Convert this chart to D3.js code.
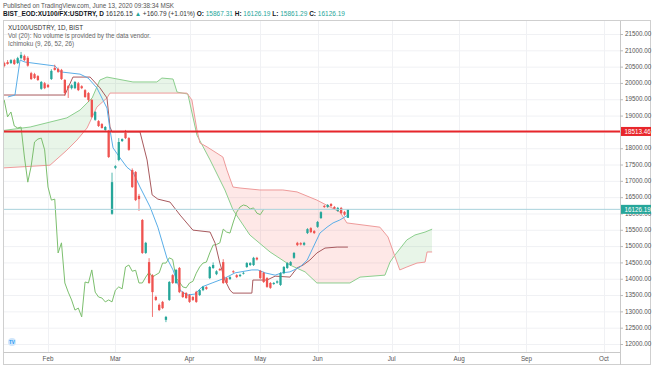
<!DOCTYPE html>
<html><head><meta charset="utf-8">
<script src="https://cdn.jsdelivr.net/npm/d3@7"></script>
<style>
body { margin: 0; background: #fff; font-family: 'Liberation Sans', Arial, sans-serif; }
svg { display: block; }
</style>
</head>
<body>
<svg id="chart" width="654" height="366"></svg>
<script>
// daily candles, Jan 15 .. Jun 12 2020 (bar index 0..102)
const opens  = [20610,20640,20610,20700,20610,20760,20830,20770,20300,20270,20210,19820,19990,19940,20120,20460,20430,20400,20090,19900,19840,19840,19990,19900,19780,19690,19480,18870,18830,18740,18560,18500,15990,17400,17640,18220,18470,18310,17330,17270,16540,15800,14790,14510,14110,13440,13200,13290,12740,13350,14110,13870,14330,13590,13560,13500,13440,13600,13500,13650,13740,14020,14330,14140,14300,14510,14020,13990,14230,14110,14080,14160,14360,14420,14420,14640,14240,14180,14020,13870,13840,13880,13810,14170,14330,14420,14640,15100,15090,15040,15400,15550,15460,15590,15860,16230,16200,16290,16200,16080,16170,16050,15867];
const highs  = [20650,20700,20730,20740,20800,20950,20870,20820,20340,20310,20240,20060,20030,19970,20420,20560,20470,20430,20120,19940,19960,20060,20030,19930,19810,19720,19510,19140,18860,18770,18680,18560,17250,17480,18310,18300,18560,18340,17380,17300,16600,15830,15130,14630,14140,13480,13240,13320,12860,13930,14140,14300,14360,13620,13590,13530,13470,13630,13680,13780,13770,14390,14500,14260,14330,14600,14050,14080,14260,14140,14150,14210,14510,14510,14670,14670,14270,14210,14050,13900,13900,13950,14200,14390,14510,14540,14820,15130,15120,15130,15550,15580,15490,15770,16070,16260,16290,16320,16230,16200,16200,16080,16126];
const lows   = [20480,20560,20580,20550,20580,20720,20670,20500,20090,20120,20060,19790,19810,19850,20090,20380,20310,20090,19600,19540,19800,19810,19750,19810,19540,19420,18930,18840,18650,18600,18530,17700,15960,17360,17600,18190,18280,17920,16780,16380,16080,14760,14760,13840,12830,13320,13010,13070,12670,13320,13840,13840,13560,13410,13380,13260,13320,13260,13470,13620,13660,13990,14300,14110,14240,13840,13840,13960,14170,14020,14050,14130,14330,14390,14390,14560,13990,13870,13720,13690,13810,13850,13780,14140,14300,14390,14610,15000,15020,15010,15370,15400,15370,15560,15830,16170,16170,16200,16110,16050,15980,15930,15861];
const closes = [20520,20580,20700,20580,20760,20860,20700,20530,20120,20150,20090,20030,19840,19870,20370,20400,20340,20120,19690,19840,19930,20030,19780,19840,19570,19480,18960,19110,18680,18620,18650,17730,16960,17450,18190,18280,18310,17950,16810,16410,16440,14790,15100,13870,13590,13350,13040,13100,12830,13900,13870,14270,13590,13440,13410,13290,13350,13290,13650,13750,13690,14360,14420,14230,14260,13870,13870,14050,14200,14050,14120,14180,14480,14480,14640,14590,14020,13900,13750,13720,13870,13920,14170,14360,14480,14510,14790,15030,15050,15100,15520,15430,15400,15740,16040,16200,16260,16230,16140,16170,16010,15965,16126];

// Ichimoku lines: [bar index, price]
const tenkan = [[1.1,19570],[3.2,19630],[4.7,20700],[6.2,20640],[15.1,20520],[16.6,20340],[22.5,20270],[24.9,20150],[27.5,19850],[30.5,19230],[31.4,18560],[32.3,18010],[34.4,17700],[36.4,17420],[38.2,17270],[40.3,16810],[43.3,16200],[45.6,15580],[48.3,14630],[50.1,14270],[52.2,13650],[54.2,13500],[56.6,13530],[58.7,13750],[61.7,13870],[65.5,14020],[68.5,14180],[73.5,14270],[75.3,14270],[77.4,14180],[80.4,14110],[82.4,14180],[84.8,14210],[87.8,14360],[89.9,14570],[91.6,14940],[93.7,15400],[95.8,15580],[97.6,15710],[99.6,15800],[102,15950]];
const kijun = [[-1.3,19630],[18,19630],[20.4,20180],[25.5,20180],[28.4,19850],[30.5,19540],[31.4,18650],[32,18500],[40.3,18500],[42.4,17640],[43.9,16570],[45.6,16440],[49.2,16350],[52.2,15950],[56,15490],[61.1,15430],[62.6,15090],[64,14480],[65.5,13960],[67,13650],[67.9,13560],[73.5,13560],[73.8,13960],[78,13960],[80.4,14080],[84.8,14050],[86.9,14330],[88.7,14420],[90.7,14570],[92.8,14790],[95.2,14940],[98.8,14970],[102,14970]];
const spanA = [[-1.3,18530],[7.7,18650],[18.6,18930],[22.5,19170],[26.1,19540],[28.4,20090],[30.5,20180],[38.2,20030],[45.3,20030],[46.8,20150],[50.1,20120],[51.3,19720],[54.5,19660],[57.2,18400],[61.1,17640],[65.5,16720],[67.9,16110],[72.9,15340],[78.9,14820],[84.8,14420],[89.3,14210],[92.8,13870],[102.6,13870],[105.6,14050],[113,14110],[114.5,14510],[116,14730],[119.5,15190],[121.9,15340],[124.9,15430],[127,15520]];
const spanB = [[-1.3,17390],[13.6,17480],[18.6,17940],[21.6,18250],[24.6,18620],[27.5,19260],[30.5,19540],[31.4,19690],[54.2,19690],[55.7,19480],[57.2,18560],[58.1,18160],[60.2,18040],[64.9,17730],[66.1,17330],[67.9,16810],[70,16780],[75.9,16720],[82.7,16720],[86.9,16660],[92.8,16410],[99.7,16040],[101.7,15710],[111.5,15580],[113.9,15280],[116,14670],[117.4,14270],[119.5,14360],[122.5,14480],[124.9,14510],[125.5,14820],[127,14820]];
const laggingShift = 25;

const priceTicks = [12000,12500,13000,13500,14000,14500,15000,15500,16000,16500,17000,17500,18000,18500,19000,19500,20000,20500,21000,21500];
const monthTicks = [13,33,55,76,93,115,135,155,178];
const monthNames = ["Feb","Mar","Apr","May","Jun","Jul","Aug","Sep","Oct"];
const levelLine = 18513.46;
const lastPrice = 16126.19;

const upCol = "#26a69a", downCol = "#ef5350";
const svg = d3.select("#chart");
const pl = 4, pr = 620, pt = 21, pb = 352;

const x = d3.scaleLinear().domain([0, 102]).range([4.2, 347.9]);
const y = d3.scaleLinear().domain([12000, 21500]).range([344, 34]);

const defs = svg.append("defs");
defs.append("clipPath").attr("id", "plot")
  .append("rect").attr("x", pl).attr("y", pt).attr("width", pr - pl).attr("height", pb - pt);

// frame
svg.append("rect").attr("x", 3.5).attr("y", 20.5).attr("width", 647).attr("height", 344)
  .attr("fill", "none").attr("stroke", "#cfcfcf");

// grid
const grid = svg.append("g").attr("clip-path", "url(#plot)");
grid.selectAll(".h").data(priceTicks).join("line")
  .attr("x1", pl).attr("x2", pr).attr("y1", d => y(d) + 0.5).attr("y2", d => y(d) + 0.5)
  .attr("stroke", "#f0f1f4");
grid.selectAll(".v").data(monthTicks).join("line")
  .attr("x1", d => Math.round(x(d)) + 0.5).attr("x2", d => Math.round(x(d)) + 0.5)
  .attr("y1", pt).attr("y2", pb).attr("stroke", "#f0f1f4");

const plot = svg.append("g").attr("clip-path", "url(#plot)");
const line = d3.line().x(d => x(d[0])).y(d => y(d[1]));

// cloud: polygon A -> reversed B, split by which side of B it lies
const xa = x(spanA[0][0]), xb = x(spanA[spanA.length - 1][0]);
const bPath = line(spanB);
defs.append("clipPath").attr("id", "aboveB").append("path").attr("d", bPath + `L${xb},0L${xa},0Z`);
defs.append("clipPath").attr("id", "belowB").append("path").attr("d", bPath + `L${xb},366L${xa},366Z`);
const cloud = line(spanA.concat(spanB.slice().reverse())) + "Z";
plot.append("g").attr("clip-path", "url(#aboveB)").append("path")
  .attr("d", cloud).attr("fill", "rgba(76,175,80,0.13)").attr("fill-rule", "evenodd");
plot.append("g").attr("clip-path", "url(#belowB)").append("path")
  .attr("d", cloud).attr("fill", "rgba(244,67,54,0.12)").attr("fill-rule", "evenodd");

plot.append("path").attr("d", line(spanA)).attr("fill", "none").attr("stroke", "#8ccf8e").attr("stroke-width", 1);
plot.append("path").attr("d", line(spanB)).attr("fill", "none").attr("stroke", "#ef9a9a").attr("stroke-width", 1);

// lagging span = closes shifted back
const lagging = closes.map((c, i) => [i - laggingShift, c]).filter(d => d[0] >= -1.3);
plot.append("path").attr("d", line(lagging)).attr("fill", "none").attr("stroke", "#7cbf6e").attr("stroke-width", 1);
plot.append("path").attr("d", line(kijun)).attr("fill", "none").attr("stroke", "#a85a5e").attr("stroke-width", 1);
plot.append("path").attr("d", line(tenkan)).attr("fill", "none").attr("stroke", "#5aaee8").attr("stroke-width", 1);

// candles
const candles = closes.map((c, i) => ({ i, o: opens[i], h: highs[i], l: lows[i], c }));
const cg = plot.append("g");
cg.selectAll(".wick").data(candles).join("line")
  .attr("x1", d => x(d.i)).attr("x2", d => x(d.i))
  .attr("y1", d => y(d.h)).attr("y2", d => y(d.l))
  .attr("stroke", d => d.c >= d.o ? upCol : downCol).attr("stroke-width", 0.8);
cg.selectAll(".body").data(candles).join("rect")
  .attr("x", d => x(d.i) - 1.15).attr("width", 2.3)
  .attr("y", d => y(Math.max(d.o, d.c)))
  .attr("height", d => Math.max(0.8, Math.abs(y(d.o) - y(d.c))))
  .attr("fill", d => d.c >= d.o ? upCol : downCol);

// price lines
plot.append("line").attr("x1", pl).attr("x2", pr)
  .attr("y1", y(lastPrice)).attr("y2", y(lastPrice)).attr("stroke", "#a9d3dc").attr("stroke-width", 1);
plot.append("line").attr("x1", pl).attr("x2", pr)
  .attr("y1", y(levelLine)).attr("y2", y(levelLine)).attr("stroke", "#e8262b").attr("stroke-width", 2);

// right axis
svg.append("line").attr("x1", pr + 0.5).attr("x2", pr + 0.5).attr("y1", pt).attr("y2", 365)
  .attr("stroke", "#c9c9c9");
const ax = svg.append("g").attr("font-size", 6.3).attr("fill", "#555");
ax.selectAll("text").data(priceTicks).join("text")
  .attr("x", 625).attr("y", d => y(d) + 2.2).text(d => d.toFixed(2));
ax.selectAll("line").data(priceTicks).join("line")
  .attr("x1", pr).attr("x2", pr + 3).attr("y1", d => y(d) + 0.5).attr("y2", d => y(d) + 0.5)
  .attr("stroke", "#bbb");

function priceTag(v, col) {
  const g = svg.append("g");
  g.append("rect").attr("x", pr + 1).attr("y", y(v) - 4.5).attr("width", 30).attr("height", 9).attr("fill", col);
  g.append("text").attr("x", 624.5).attr("y", y(v) + 2.2).attr("font-size", 6.3).attr("fill", "#fff").text(v.toFixed(2));
}
priceTag(levelLine, "#e8262b");
priceTag(lastPrice, "#26a69a");

// time axis
svg.append("line").attr("x1", 3.5).attr("x2", pr).attr("y1", pb + 0.5).attr("y2", pb + 0.5).attr("stroke", "#c9c9c9");
svg.append("g").selectAll("text").data(monthTicks).join("text")
  .attr("x", d => x(d)).attr("y", 360.5).attr("text-anchor", "middle")
  .attr("font-size", 6.3).attr("fill", "#555").text((d, i) => monthNames[i]);

// logo
svg.append("circle").attr("cx", 12).attr("cy", 342).attr("r", 4).attr("fill", "#cfe6fb");
svg.append("text").attr("x", 12).attr("y", 344).attr("text-anchor", "middle").attr("font-size", 4.5)
  .attr("fill", "#2196f3").attr("font-weight", "bold").text("TV");

// header
svg.append("text").attr("x", 3).attr("y", 7.5).attr("font-size", 6.3).attr("fill", "#555")
  .text("Published on TradingView.com, June 13, 2020 09:38:34 MSK");
const hdr = svg.append("text").attr("x", 3).attr("y", 16).attr("font-size", 6.5).attr("fill", "#333");
[["BIST_EOD:XU100/FX:USDTRY, D", "#131722", "bold"], ["  16126.15 ", "#333", "normal"], ["▲", upCol, "normal"],
 [" +160.79 (+1.01%) ", "#333", "normal"], ["O: ", "#131722", "bold"], ["15867.31", upCol, "normal"],
 [" H: ", "#131722", "bold"], ["16126.19", upCol, "normal"], [" L: ", "#131722", "bold"], ["15861.29", upCol, "normal"],
 [" C: ", "#131722", "bold"], ["16126.19", upCol, "normal"]]
  .forEach(([t, c, w]) => hdr.append("tspan").attr("fill", c).attr("font-weight", w).text(t));

const leg = svg.append("g").attr("font-size", 6.3);
leg.append("text").attr("x", 8).attr("y", 30).attr("fill", "#333").text("XU100/USDTRY, 1D, BIST");
leg.append("text").attr("x", 8).attr("y", 38).attr("fill", "#666").text("Vol (20): No volume is provided by the data vendor.");
leg.append("text").attr("x", 8).attr("y", 46).attr("fill", "#666").text("Ichimoku (9, 26, 52, 26)");
</script>
</body>
</html>
